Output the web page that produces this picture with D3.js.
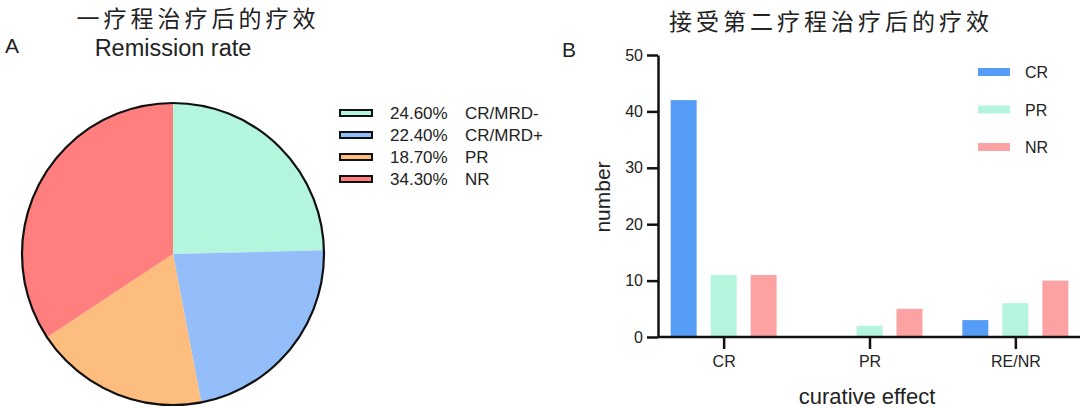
<!DOCTYPE html>
<html>
<head>
<meta charset="utf-8">
<script src="https://cdn.jsdelivr.net/npm/d3@7"></script>
<style>
  body { margin: 0; background: #fff; }
  svg text { font-family: "Liberation Sans", Arial, sans-serif; fill: #222; }
  .cjk { font-family: "Noto Sans CJK SC", sans-serif; }
</style>
</head>
<body>
<div id="chart"></div>
<script>
// panel A data
const pieLabels = ['CR/MRD-', 'CR/MRD+', 'PR', 'NR'];
const pieValues = [24.6, 22.4, 18.7, 34.3];
const pieColors = ['#b3f5dd', '#94bef9', '#fdbd7e', '#ff7f7f'];

// panel B data
const groups = ['CR', 'PR', 'RE/NR'];
const series = ['CR', 'PR', 'NR'];
const seriesValues = {
  CR: [42, 0, 3],
  PR: [11, 2, 6],
  NR: [11, 5, 10]
};
const barColors = ['#559cf7', '#b5f5de', '#fda2a2'];
const yTicks = [0, 10, 20, 30, 40, 50];

const svg = d3.select('#chart').append('svg')
    .attr('width', 1080)
    .attr('height', 408);

// ---------- Panel A ----------
svg.append('text').attr('class', 'cjk')
    .attr('x', 198).attr('y', 27)
    .attr('text-anchor', 'middle')
    .style('font-size', '23px').style('letter-spacing', '4px')
    .text('一疗程治疗后的疗效');

svg.append('text').attr('x', 5).attr('y', 53)
    .style('font-size', '21px').text('A');

svg.append('text').attr('x', 173).attr('y', 56)
    .attr('text-anchor', 'middle')
    .style('font-size', '23.5px').text('Remission rate');

const pie = d3.pie().sort(null).value(d => d);
const arc = d3.arc().innerRadius(0).outerRadius(151);

const pieG = svg.append('g').attr('transform', 'translate(173,254)');
pieG.selectAll('path')
    .data(pie(pieValues))
  .join('path')
    .attr('d', arc)
    .attr('fill', (d, i) => pieColors[i]);
pieG.append('circle')
    .attr('r', 151)
    .attr('fill', 'none')
    .attr('stroke', '#111')
    .attr('stroke-width', 2.2);

const legA = svg.append('g').attr('transform', 'translate(340,113)');
const legRows = legA.selectAll('g')
    .data(pieLabels)
  .join('g')
    .attr('transform', (d, i) => `translate(0,${i * 22})`);
legRows.append('rect')
    .attr('x', 0).attr('y', -3)
    .attr('width', 32).attr('height', 6)
    .attr('fill', (d, i) => pieColors[i])
    .attr('stroke', '#111').attr('stroke-width', 2);
legRows.append('text')
    .attr('x', 50).attr('y', 6)
    .style('font-size', '17px')
    .text((d, i) => `${pieValues[i].toFixed(2)}%`);
legRows.append('text')
    .attr('x', 125).attr('y', 6)
    .style('font-size', '17px')
    .text(d => d);

// ---------- Panel B ----------
svg.append('text').attr('class', 'cjk')
    .attr('x', 831).attr('y', 30)
    .attr('text-anchor', 'middle')
    .style('font-size', '23px').style('letter-spacing', '4px')
    .text('接受第二疗程治疗后的疗效');

svg.append('text').attr('x', 562).attr('y', 57)
    .style('font-size', '21px').text('B');

const x = d3.scalePoint()
    .domain(groups)
    .range([658, 1081])
    .padding(0.45);

const xSub = d3.scaleBand()
    .domain(series)
    .range([-53, 53])
    .paddingInner(0.35);

const y = d3.scaleLinear()
    .domain([0, 50])
    .range([337, 55]);

const barG = svg.append('g');
series.forEach((s, si) => {
  barG.selectAll(`.bar-${si}`)
      .data(seriesValues[s])
    .join('rect')
      .attr('class', `bar-${si}`)
      .attr('x', (d, i) => x(groups[i]) + xSub(s))
      .attr('y', d => y(d))
      .attr('width', xSub.bandwidth())
      .attr('height', d => y(0) - y(d))
      .attr('fill', barColors[si]);
});

const yAxisG = svg.append('g')
    .attr('transform', 'translate(658,0)')
    .call(d3.axisLeft(y).tickValues(yTicks).tickSize(11).tickSizeOuter(0).tickPadding(4));

const xAxisG = svg.append('g')
    .attr('transform', `translate(0,${y(0)})`)
    .call(d3.axisBottom(x).tickSize(12).tickSizeOuter(0).tickPadding(7));

[yAxisG, xAxisG].forEach(g => {
  g.select('.domain').attr('stroke', '#111').attr('stroke-width', 2.5);
  g.selectAll('.tick line').attr('stroke', '#111').attr('stroke-width', 2.5);
  g.selectAll('.tick text')
      .style('font-family', '"Liberation Sans", Arial, sans-serif')
      .style('font-size', '16px').attr('fill', '#333');
});
xAxisG.select('.domain').attr('d', 'M658,0H1080');

svg.append('text')
    .attr('transform', 'translate(610,197) rotate(-90)')
    .attr('text-anchor', 'middle')
    .style('font-size', '21px').text('number');

svg.append('text')
    .attr('x', 867).attr('y', 404)
    .attr('text-anchor', 'middle')
    .style('font-size', '22px').text('curative effect');

const legB = svg.append('g').attr('transform', 'translate(978,72)');
const legBRows = legB.selectAll('g')
    .data(series)
  .join('g')
    .attr('transform', (d, i) => `translate(0,${i * 37.5})`);
legBRows.append('rect')
    .attr('x', 0).attr('y', -4)
    .attr('width', 32).attr('height', 8)
    .attr('fill', (d, i) => barColors[i]);
legBRows.append('text')
    .attr('x', 47).attr('y', 6)
    .style('font-size', '16px')
    .text(d => d);
</script>
</body>
</html>
